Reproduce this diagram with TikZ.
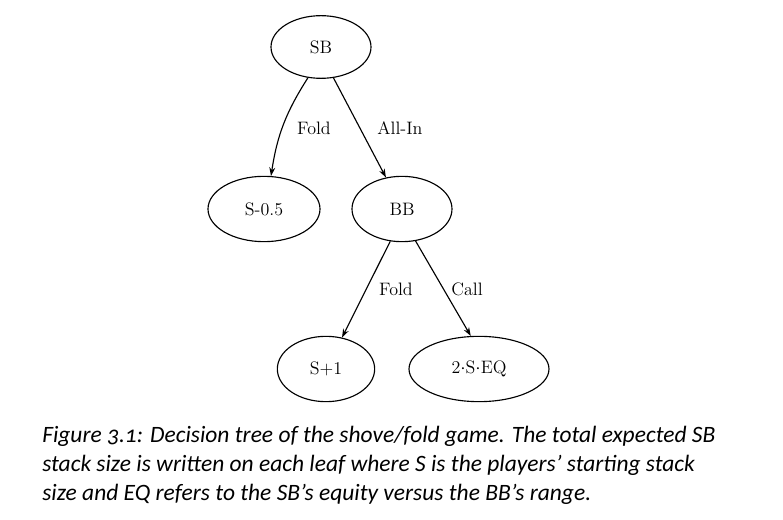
\documentclass[tikz,border=0pt]{standalone}
\usepackage{fontspec}
\newfontfamily\capfont[Numbers=OldStyle]{Carlito}
\usetikzlibrary{shapes.geometric,arrows.meta}
\begin{document}
\begin{tikzpicture}[x=0.75pt,y=-0.75pt,
  st/.style={draw,ellipse,line width=0.85pt,inner sep=0pt,font=\fontsize{13.5}{16}\selectfont},
  edge/.style={line width=0.85pt,-{Stealth[length=6.5pt,width=4.5pt]}},
  lbl/.style={font=\fontsize{13.5}{16}\selectfont,inner sep=0pt}]
\useasboundingbox (0,0) rectangle (783,520);
\node[st,minimum width=75pt,minimum height=47pt] (sb) at (321,47) {SB};
\node[st,minimum width=84pt,minimum height=49pt] (s05) at (264,209) {S-0.5};
\node[st,minimum width=75pt,minimum height=49pt] (bb) at (402,209) {BB};
\node[st,minimum width=73pt,minimum height=49pt] (s1) at (326,369) {S+1};
\node[st,minimum width=105pt,minimum height=49pt] (eq) at (479,369) {2$\cdot$S$\cdot$EQ};
\draw[edge] (sb.247) to[bend right=12] (s05.78);
\draw[edge] (sb.292) -- (bb.117);
\draw[edge] (bb.250) -- (s1.63);
\draw[edge] (bb.293) -- (eq.104);
\node[lbl] (l1) at (314,128) {Fold};
\node[lbl] (l2) at (400,128) {All-In};
\node[lbl] (l3) at (396,289) {Fold};
\node[lbl] (l4) at (467,289) {Call};
\node[anchor=north west,align=left,inner sep=0pt,font=\capfont\itshape\fontsize{17.6}{21.8}\selectfont] (cap) at (42,426)
{Figure 3.1: Decision tree of the shove/fold game. The total expected SB\\
stack size is written on each leaf where S is the players’ starting stack\\
size and EQ refers to the SB’s equity versus the BB’s range.};
\end{tikzpicture}
\end{document}
